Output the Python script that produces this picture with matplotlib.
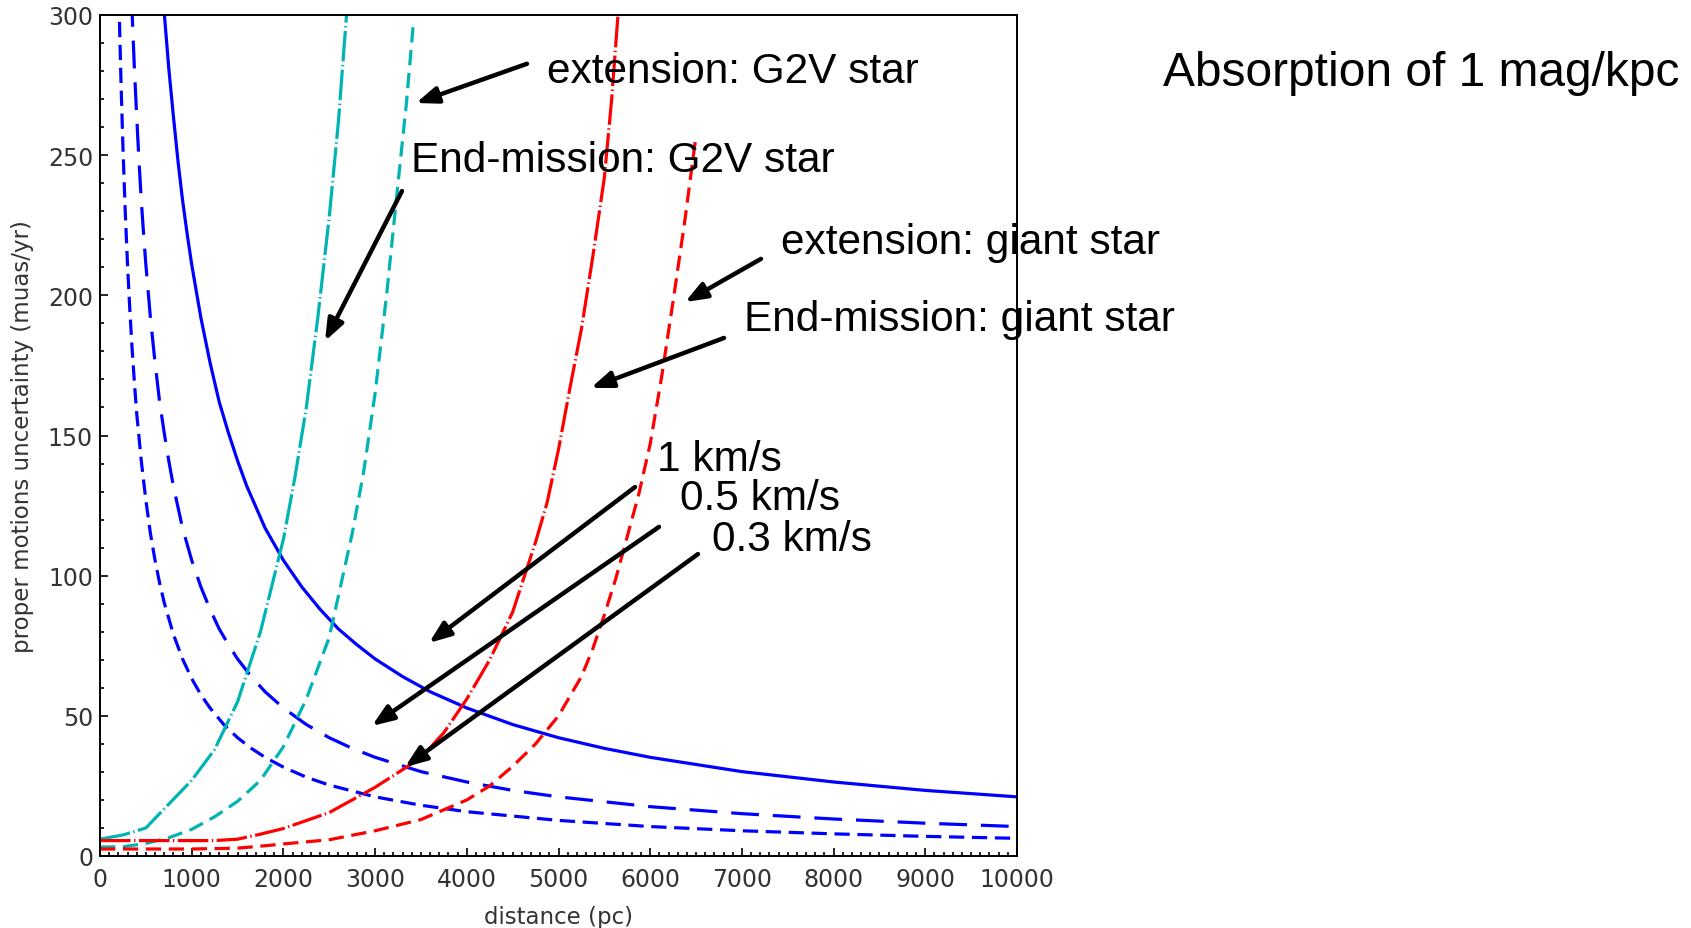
import matplotlib
matplotlib.use("Agg")
import matplotlib.pyplot as plt
from matplotlib.ticker import MultipleLocator

# Proper motion uncertainty needed to resolve a given velocity (blue curves)
dist_1kms = [650, 675, 700, 750, 800, 850, 900, 950, 1000, 1100, 1200, 1300, 1400, 1500,
             1600, 1800, 2000, 2200, 2400, 2600, 2800, 3000, 3300, 3600, 4000, 4500,
             5000, 5500, 6000, 7000, 8000, 9000, 10000]
pm_1kms = [325, 313, 301, 281, 264, 248, 234, 222, 211, 192, 176, 162, 151, 141,
           132, 117, 105.5, 96, 88, 81, 75.4, 70.3, 64, 58.6, 52.8, 46.9,
           42.2, 38.4, 35.2, 30.1, 26.4, 23.4, 21.1]

dist_05kms = [330, 350, 375, 400, 425, 450, 475, 500, 550, 600, 650, 700, 750, 800, 900,
              1000, 1100, 1200, 1300, 1400, 1500, 1650, 1800, 2000, 2250, 2500, 2750,
              3000, 3500, 4000, 4500, 5000, 6000, 7000, 8000, 9000, 10000]
pm_05kms = [320, 301, 281, 264, 248, 234, 222, 211, 192, 176, 162, 151, 141, 132, 117,
            105.5, 96, 88, 81, 75.4, 70.3, 64, 58.6, 52.8, 46.9, 42.2, 38.4,
            35.2, 30.1, 26.4, 23.4, 21.1, 17.6, 15.1, 13.2, 11.7, 10.5]

dist_03kms = [200, 215, 230, 250, 275, 300, 325, 350, 375, 400, 450, 500, 550, 600, 650,
              700, 800, 900, 1000, 1100, 1200, 1350, 1500, 1650, 1800, 2000, 2250, 2500,
              3000, 3500, 4000, 5000, 6000, 7000, 8000, 9000, 10000]
pm_03kms = [316, 294, 275, 253, 230, 211, 195, 181, 169, 158, 141, 127, 115, 105.5, 97.4,
            90.4, 79.1, 70.3, 63.3, 57.5, 52.8, 46.9, 42.2, 38.4, 35.2, 31.7, 28.1, 25.3,
            21.1, 18.1, 15.8, 12.7, 10.5, 9.0, 7.9, 7.0, 6.3]

# Astrometric accuracy with 1 mag/kpc absorption
dist_g2v_end = [0, 250, 500, 750, 1000, 1250, 1500, 1750, 2000, 2125, 2250, 2375, 2500,
                2600, 2700]
pm_g2v_end = [6, 7.5, 10, 18.5, 27, 38, 55, 80, 113, 135, 160, 192, 228, 262, 305]

dist_g2v_ext = [0, 250, 500, 750, 1000, 1250, 1500, 1750, 2000, 2250, 2500, 2750, 2875,
                3000, 3125, 3250, 3340, 3420]
pm_g2v_ext = [3.2, 3.3, 4.5, 6.5, 9.5, 14, 19.5, 27, 39, 56, 78, 115, 137,
              165, 200, 240, 268, 298]

dist_giant_end = [0, 500, 1000, 1250, 1500, 1750, 2000, 2500, 3000, 3500, 3750, 4000, 4250,
                  4500, 4750, 4875, 5000, 5125, 5250, 5375, 5500, 5580, 5660]
pm_giant_end = [5.5, 5.5, 5.5, 5.5, 6, 7.8, 9.8, 15.5, 24.5, 35, 44, 56, 70,
                87, 112, 126, 145, 167, 188, 214, 242, 270, 305]

dist_giant_ext = [0, 500, 1000, 1500, 1750, 2000, 2500, 3000, 3500, 4000, 4250, 4500, 4750,
                  5000, 5250, 5375, 5500, 5625, 5750, 5875, 6000, 6125, 6250, 6375, 6500]
pm_giant_ext = [2.5, 2.5, 2.5, 2.8, 3.5, 4.3, 5.8, 9, 13, 20, 25, 32, 40,
                50, 64, 74, 86, 99, 114, 129, 147, 171, 198, 226, 257]

plt.rcParams["lines.scale_dashes"] = False

fig = plt.figure(figsize=(16.91, 9.29), dpi=100)
ax = fig.add_axes([100 / 1691, 72 / 929, 917 / 1691, 841 / 929])

blue = "#0000ff"
cyan = "#00b4b4"
red = "#ff0000"
lw = 2.3
long_dash = (0, (20, 10))
short_dash = (0, (11, 5.5))
dash_dot = (0, (22, 2.5, 1, 2.5))

ax.plot(dist_1kms, pm_1kms, color=blue, lw=lw, linestyle="-")
ax.plot(dist_05kms, pm_05kms, color=blue, lw=lw, linestyle=long_dash)
ax.plot(dist_03kms, pm_03kms, color=blue, lw=lw, linestyle=short_dash)
ax.plot(dist_g2v_end, pm_g2v_end, color=cyan, lw=lw, linestyle=dash_dot)
ax.plot(dist_g2v_ext, pm_g2v_ext, color=cyan, lw=lw, linestyle=short_dash)
ax.plot(dist_giant_end, pm_giant_end, color=red, lw=lw, linestyle=dash_dot)
ax.plot(dist_giant_ext, pm_giant_ext, color=red, lw=lw, linestyle=short_dash)

ax.set_xlim(0, 10000)
ax.set_ylim(0, 300)
ax.xaxis.set_major_locator(MultipleLocator(1000))
ax.xaxis.set_minor_locator(MultipleLocator(100))
ax.yaxis.set_major_locator(MultipleLocator(50))
ax.yaxis.set_minor_locator(MultipleLocator(10))
ax.tick_params(which="both", direction="in", top=False, right=False,
               labelsize=17, labelcolor="#333333", width=1.2)
ax.tick_params(which="major", length=5.5)
ax.tick_params(which="minor", length=3)
ax.tick_params(axis="x", pad=8)
ax.tick_params(axis="y", pad=5)
for s in ax.spines.values():
    s.set_linewidth(1.4)

ax.set_xlabel("distance (pc)", fontsize=16.5, color="#333333", labelpad=10)
ax.set_ylabel("proper motions uncertainty (muas/yr)", fontsize=16.5, color="#333333",
              labelpad=10)

# labels and pointers
font = "Liberation Sans"
labels = [
    ("extension: G2V star", 4875, 276.1),
    ("End-mission: G2V star", 3391, 244.4),
    ("extension: giant star", 7426, 215.1),
    ("End-mission: giant star", 7023, 187.7),
    ("1 km/s", 6074, 137.7),
    ("0.5 km/s", 6325, 123.8),
    ("0.3 km/s", 6674, 109.2),
]
for txt, x, y in labels:
    ax.text(x, y, txt, fontsize=30.5, family=font, va="baseline", ha="left",
            clip_on=False, zorder=5)

arrows = [
    ((4656, 282.6), (3446, 268.6)),
    ((3293, 237.2), (2454, 183.7)),
    ((7208, 213.0), (6380, 197.6)),
    ((6805, 184.8), (5354, 167.0)),
    ((5834, 131.6), (3588, 76.0)),
    ((6096, 117.4), (2966, 46.4)),
    ((6521, 107.7), (3326, 31.75)),
]
for tail, tip in arrows:
    ax.annotate("", xy=tip, xytext=tail, annotation_clip=False, zorder=6,
                arrowprops=dict(arrowstyle="-|>,head_length=0.65,head_width=0.25",
                                mutation_scale=20, lw=3.2, color="black",
                                shrinkA=0, shrinkB=0))

fig.text(1163 / 1691, 1 - 86 / 929, "Absorption of 1 mag/kpc", fontsize=34.5,
         family=font, va="baseline", ha="left")

fig.savefig("out.png", dpi=100)
